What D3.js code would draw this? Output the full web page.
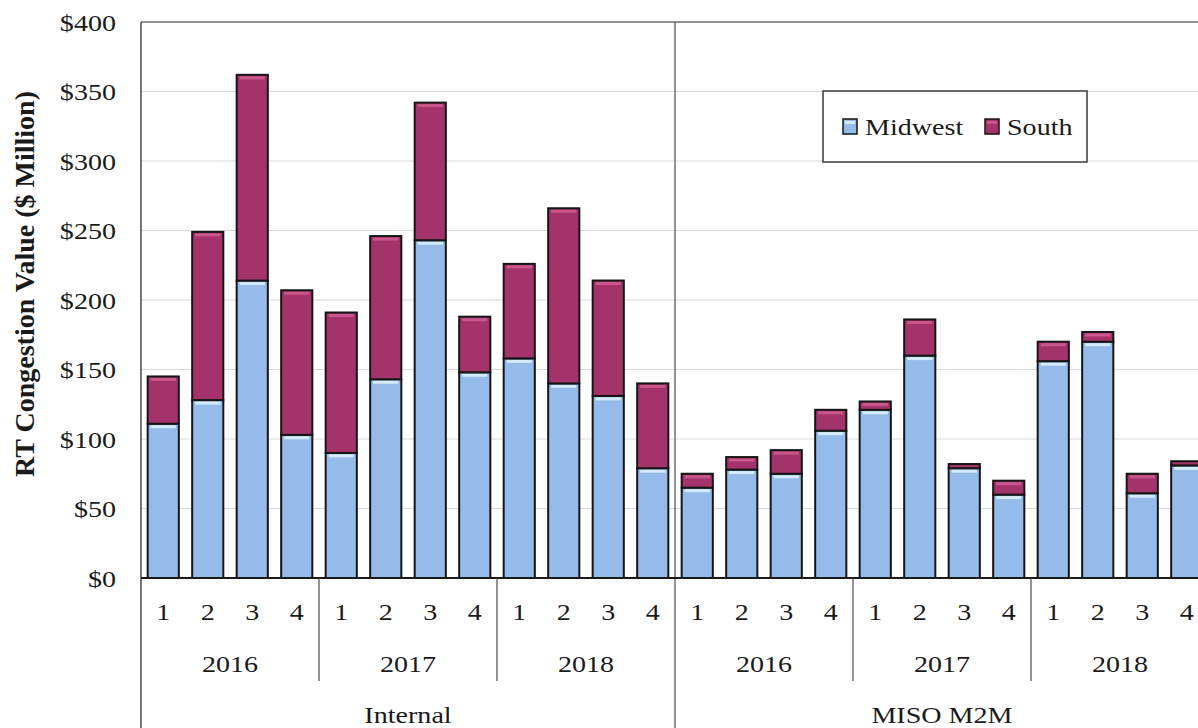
<!DOCTYPE html>
<html>
<head>
<meta charset="utf-8">
<script src="https://cdn.jsdelivr.net/npm/d3@7"></script>
<style>
  html, body { margin: 0; padding: 0; background: #ffffff; }
  svg { display: block; }
  text { font-family: "Liberation Serif", "Times New Roman", serif; fill: #1a1a1a; }
</style>
</head>
<body>
<svg id="chart" width="1198" height="728"></svg>
<script>
// ---------------- data ----------------
const groups = ["Internal", "MISO M2M"];
const years = ["2016", "2017", "2018"];
const quarters = ["1", "2", "3", "4"];
const seriesNames = ["Midwest", "South"];
// values in $ Million, order: Internal 2016Q1..2018Q4, then MISO M2M 2016Q1..2018Q4
const midwest = [111, 128, 214, 103,  90, 143, 243, 148, 158, 140, 131, 79,
                  65,  78,  75, 106, 121, 160,  79,  60, 156, 170,  61, 81];
const south   = [ 34, 121, 148, 104, 101, 103,  99,  40,  68, 126,  83, 61,
                  10,   9,  17,  15,   6,  26,   3,  10,  14,   7,  14,  3];
const yTicks = [0, 50, 100, 150, 200, 250, 300, 350, 400];
const yTitle = "RT Congestion Value  ($ Million)";

// ---------------- layout ----------------
const W = 1198, H = 728;
const plotLeft = 141, plotTop = 22, plotBottom = 578, rangeEnd = 1209;
const SX = 1.17;           // horizontal text stretch seen in the reference
const FS = 24;
const colors = { Midwest: "#94bbe9", South: "#a5336b" };
const hilite = { Midwest: "#d4ecfb", South: "#c9578b" };

const svg = d3.select("#chart");

const cats = [];
groups.forEach(g => years.forEach(yr => quarters.forEach(q => cats.push(g + "|" + yr + "|" + q))));

const x = d3.scaleBand().domain(cats).range([plotLeft, rangeEnd]).paddingInner(0.3).paddingOuter(0.15);
const y = d3.scaleLinear().domain([0, 400]).range([plotBottom, plotTop]);
const step = x.step();

// gridlines
svg.append("g").selectAll("line").data(yTicks.filter(t => t > 0 && t < 400)).join("line")
  .attr("x1", plotLeft).attr("x2", W).attr("y1", d => y(d)).attr("y2", d => y(d))
  .attr("stroke", "#d9d9d9").attr("stroke-width", 1.2);
// top border
svg.append("line").attr("x1", plotLeft).attr("x2", W).attr("y1", y(400)).attr("y2", y(400))
  .attr("stroke", "#6e6e6e").attr("stroke-width", 1.5);

// group divider through plot
svg.append("line").attr("x1", plotLeft + 12 * step).attr("x2", plotLeft + 12 * step)
  .attr("y1", plotTop).attr("y2", H).attr("stroke", "#4a4a4a").attr("stroke-width", 1.2);

// stacked data
const stackData = cats.map((c, i) => ({ key: c, Midwest: midwest[i], South: south[i] }));
const stacked = d3.stack().keys(seriesNames)(stackData);

const bw = x.bandwidth();
const barG = svg.append("g");
stacked.forEach(layer => {
  const name = layer.key;
  const g = barG.append("g");
  g.selectAll("rect.fill").data(layer).join("rect").attr("class", "fill")
    .attr("x", d => x(d.data.key)).attr("width", bw)
    .attr("y", d => y(d[1])).attr("height", d => y(d[0]) - y(d[1]))
    .attr("fill", colors[name]);
  g.selectAll("rect.hl").data(layer.filter(d => y(d[0]) - y(d[1]) > 6)).join("rect").attr("class", "hl")
    .attr("x", d => x(d.data.key) + 3).attr("width", bw - 6)
    .attr("y", d => y(d[1]) + 1.5).attr("height", 3)
    .attr("fill", hilite[name]);
  g.selectAll("rect.out").data(layer).join("rect").attr("class", "out")
    .attr("x", d => x(d.data.key)).attr("width", bw)
    .attr("y", d => y(d[1])).attr("height", d => Math.max(0.5, y(d[0]) - y(d[1])))
    .attr("fill", "none").attr("stroke", "#151515").attr("stroke-width", 2);
});

// y axis
const yAxis = d3.axisLeft(y).tickValues(yTicks).tickSize(0).tickFormat(d => "$" + d);
const yg = svg.append("g").attr("transform", `translate(${plotLeft},0)`).call(yAxis);
yg.select(".domain").remove();
yg.selectAll("text").attr("x", -25 / SX).attr("dy", "0.34em")
  .attr("transform", `scale(${SX},1)`)
  .style("font-size", FS + "px").style("font-family", "Liberation Serif").attr("fill", "#1a1a1a");
// left axis line (runs through category area)
svg.append("line").attr("x1", plotLeft).attr("x2", plotLeft).attr("y1", plotTop).attr("y2", H)
  .attr("stroke", "#4a4a4a").attr("stroke-width", 1.5);

// y title
svg.append("text")
  .attr("transform", `translate(34,284) rotate(-90)`)
  .attr("text-anchor", "middle")
  .style("font-size", "28px").style("font-weight", "bold")
  .text(yTitle);

// x axis (quarters)
const xAxis = d3.axisBottom(x).tickSize(0).tickFormat(d => d.split("|")[2]);
const xg = svg.append("g").attr("transform", `translate(0,${plotBottom})`).call(xAxis);
xg.select(".domain").attr("stroke", "#1a1a1a").attr("stroke-width", 2)
  .attr("d", `M${plotLeft},0H${W}`);
xg.selectAll(".tick text").attr("y", 42).attr("dy", 0)
  .attr("transform", `scale(${SX},1)`)
  .style("font-size", FS + "px").style("font-family", "Liberation Serif").attr("fill", "#1a1a1a");

// year separators and labels
const sepG = svg.append("g");
for (let gi = 0; gi < groups.length; gi++) {
  for (let yi = 0; yi < years.length; yi++) {
    const start = plotLeft + (gi * 12 + yi * 4) * step;
    if (yi > 0) {
      sepG.append("line").attr("x1", start).attr("x2", start)
        .attr("y1", plotBottom).attr("y2", 681).attr("stroke", "#4a4a4a").attr("stroke-width", 1.2);
    }
    const cx = start + 2 * step;
    sepG.append("text").attr("transform", `translate(${cx},672) scale(${SX},1)`)
      .attr("text-anchor", "middle").style("font-size", FS + "px").text(years[yi]);
  }
  const gcx = plotLeft + (gi * 12 + 6) * step;
  sepG.append("text").attr("transform", `translate(${gcx},723) scale(${SX},1)`)
    .attr("text-anchor", "middle").style("font-size", FS + "px").text(groups[gi]);
}

// legend
const lg = svg.append("g");
lg.append("rect").attr("x", 823).attr("y", 91).attr("width", 264).attr("height", 71)
  .attr("fill", "#ffffff").attr("stroke", "#3a3a3a").attr("stroke-width", 1.5);
const legendItems = [
  { name: "Midwest", sx: 843, tx: 865 },
  { name: "South", sx: 985, tx: 1007 }
];
legendItems.forEach(it => {
  lg.append("rect").attr("x", it.sx).attr("y", 119).attr("width", 14).attr("height", 15)
    .attr("fill", colors[it.name]).attr("stroke", "#151515").attr("stroke-width", 1.5);
  lg.append("rect").attr("x", it.sx + 2).attr("y", 121).attr("width", 10).attr("height", 3)
    .attr("fill", hilite[it.name]);
  lg.append("text").attr("transform", `translate(${it.tx},135) scale(${SX},1)`)
    .style("font-size", FS + "px").text(it.name);
});
</script>
</body>
</html>
